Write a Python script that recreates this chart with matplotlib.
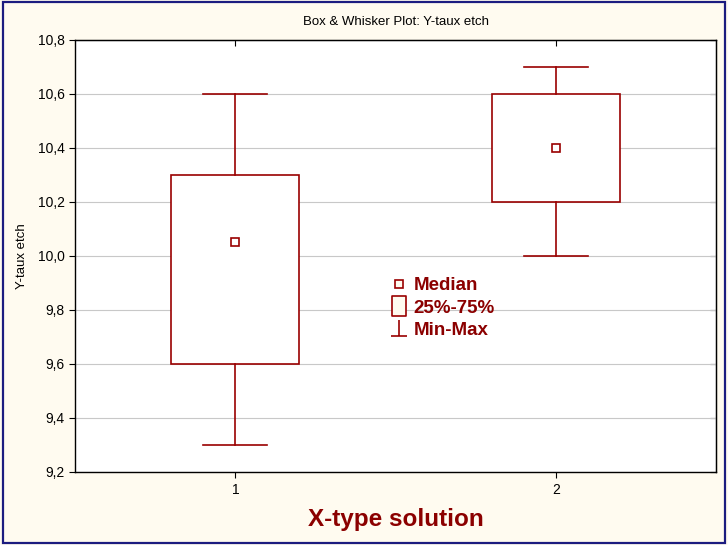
import matplotlib
matplotlib.use('Agg')
import matplotlib.pyplot as plt
from matplotlib.lines import Line2D
from matplotlib.path import Path
from matplotlib.patches import Rectangle
from matplotlib.ticker import FuncFormatter, NullFormatter

plt.rcParams['font.family'] = ['Liberation Sans', 'DejaVu Sans']

groups = [1, 2]
mins = [9.3, 10.0]
q1s = [9.6, 10.2]
medians = [10.05, 10.4]
q3s = [10.3, 10.6]
maxs = [10.6, 10.7]
yticks = [9.2, 9.4, 9.6, 9.8, 10.0, 10.2, 10.4, 10.6, 10.8]

red = '#990000'
cream = '#fffbf0'

fig = plt.figure(figsize=(7.28, 5.45), dpi=100, facecolor=cream)
fig.patches.append(Rectangle((0.004, 0.004), 0.992, 0.992, transform=fig.transFigure,
                             fill=False, edgecolor='#1c1c80', linewidth=1.6))
ax = fig.add_axes([0.103, 0.134, 0.881, 0.793])
ax.set_facecolor('white')

stats = []
for g, lo, a, m, b, hi in zip(groups, mins, q1s, medians, q3s, maxs):
    stats.append({'med': m, 'q1': a, 'q3': b, 'whislo': lo, 'whishi': hi, 'fliers': []})

ax.bxp(stats, positions=groups, widths=0.4, patch_artist=True, showfliers=False,
       boxprops=dict(facecolor='white', edgecolor=red, linewidth=1.2),
       whiskerprops=dict(color=red, linewidth=1.2),
       capprops=dict(color=red, linewidth=1.2),
       medianprops=dict(linestyle='none'), capwidths=0.2, zorder=3)
ax.plot(groups, medians, linestyle='none', marker='s', markersize=5.5,
        markerfacecolor='white', markeredgecolor=red, markeredgewidth=1.2, zorder=4)

ax.set_xlim(0.5, 2.5)
ax.set_ylim(9.2, 10.8)
ax.set_xticks(groups)
ax.set_yticks(yticks)
ax.yaxis.set_major_formatter(FuncFormatter(lambda v, p: f'{v:.1f}'.replace('.', ',')))
ax.grid(axis='y', color='#c8c8c8', linewidth=0.8, zorder=0)
ax.set_axisbelow(True)
ax.tick_params(axis='both', labelsize=10, length=4, width=0.8, color='black', direction='out')
ax.tick_params(axis='x', pad=4)
for s in ax.spines.values():
    s.set_linewidth(1.0)

top = ax.secondary_xaxis('top')
top.set_xticks(groups)
top.xaxis.set_major_formatter(NullFormatter())
top.tick_params(direction='in', length=4, width=0.8)
right = ax.secondary_yaxis('right')
right.set_yticks(yticks)
right.yaxis.set_major_formatter(NullFormatter())
right.tick_params(direction='in', length=4, width=0.8)

ax.set_title('Box & Whisker Plot: Y-taux etch', fontsize=9.5, pad=11)
ax.set_ylabel('Y-taux etch', fontsize=9.5, labelpad=7)
ax.set_xlabel('X-type solution', fontsize=17.5, fontweight='bold', color='#8b0000', labelpad=8)

box_path = Path([(-0.35, -0.5), (0.35, -0.5), (0.35, 0.5), (-0.35, 0.5), (-0.35, -0.5)],
                [Path.MOVETO, Path.LINETO, Path.LINETO, Path.LINETO, Path.CLOSEPOLY])
ibar_path = Path([(-0.5, -0.5), (0.5, -0.5), (0, -0.5), (0, 0.5)],
                 [Path.MOVETO, Path.LINETO, Path.MOVETO, Path.LINETO])
handles = [
    Line2D([], [], linestyle='none', marker='s', markersize=6, markerfacecolor=cream,
           markeredgecolor=red, markeredgewidth=1.2),
    Line2D([], [], linestyle='none', marker=box_path, markersize=14, markerfacecolor=cream,
           markeredgecolor=red, markeredgewidth=1.2),
    Line2D([], [], linestyle='none', marker=ibar_path, markersize=12, markerfacecolor='none',
           markeredgecolor=red, markeredgewidth=1.2),
]
leg = ax.legend(handles, ['Median', '25%-75%', 'Min-Max'], loc='upper left',
                bbox_to_anchor=(0.464, 0.49), frameon=False, handlelength=1.0,
                handletextpad=0.28, labelspacing=0.28,
                prop=dict(size=13.5, weight='bold'))
for t in leg.get_texts():
    t.set_color('#8b0000')

fig.savefig('out.png', dpi=100, facecolor=cream)
